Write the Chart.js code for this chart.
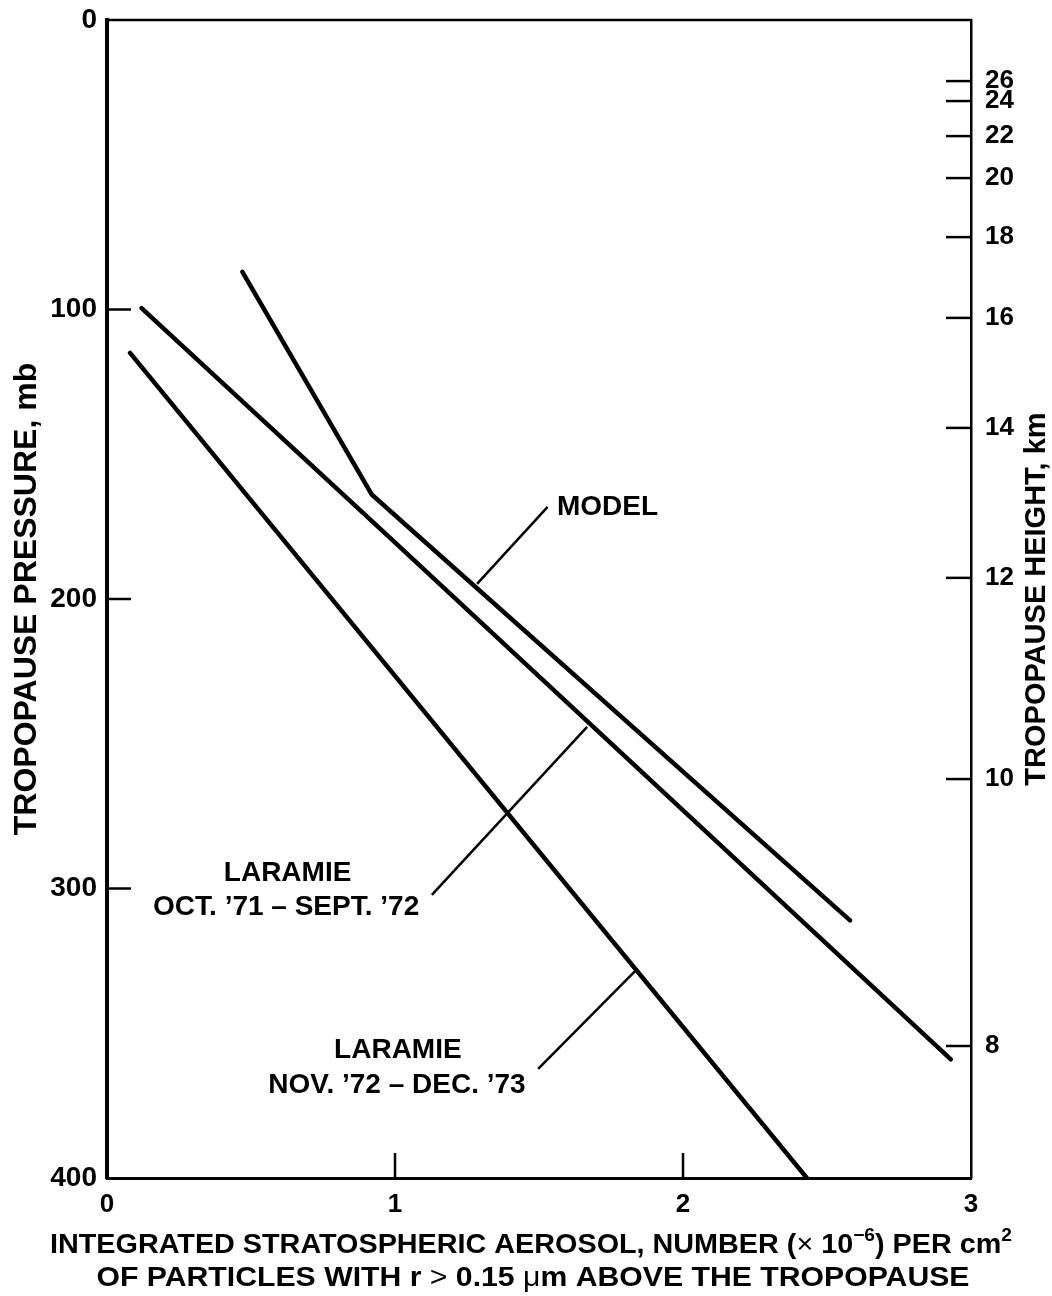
<!DOCTYPE html>
<html>
<head>
<meta charset="utf-8">
<script src="https://cdn.jsdelivr.net/npm/chart.js@4.4.0/dist/chart.umd.min.js"></script>
<style>
  html, body { margin: 0; padding: 0; background: #fff; }
  canvas { display: block; }
</style>
</head>
<body>
<canvas id="aerosolChart" width="1052" height="1296"></canvas>
<script>
const FONT = '"Liberation Sans", Arial, Helvetica, sans-serif';

// integrated aerosol (x 10^-6 per cm2) against tropopause pressure (mb)
const modelAerosol = [0.47, 0.92, 2.58];
const modelPressure = [87, 164, 311];
const oct71Aerosol = [0.12, 0.98, 2.93];
const oct71Pressure = [99.5, 178.6, 359];
const nov72Aerosol = [0.08, 2.43];
const nov72Pressure = [115, 400];

// leader lines running from each label to its curve
const modelLeaderX = [1.53, 1.285];
const modelLeaderP = [168.2, 194.8];
const oct71LeaderX = [1.128, 1.667];
const oct71LeaderP = [302.2, 244.2];
const nov72LeaderX = [1.497, 1.837];
const nov72LeaderP = [362.3, 328.2];

// axis ticks
const aerosolTicks = [0, 1, 2, 3];
const pressureTicks = [0, 100, 200, 300, 400];
const heightLabels = [26, 24, 22, 20, 18, 16, 14, 12, 10, 8];
const heightPressure = [21.1, 28.0, 40.1, 54.6, 75.0, 102.9, 140.9, 192.7, 262.2, 354.4];

// curve labels, anchored in data units
const curveLabels = [
  { text: 'MODEL', x: 1.5625, p: 168.2, align: 'left' },
  { text: 'LARAMIE', x: 0.627, p: 294.6, align: 'center' },
  { text: 'OCT. \u201971 \u2013 SEPT. \u201972', x: 0.622, p: 306.4, align: 'center' },
  { text: 'LARAMIE', x: 1.010, p: 355.8, align: 'center' },
  { text: 'NOV. \u201972 \u2013 DEC. \u201973', x: 1.007, p: 367.9, align: 'center' }
];

function toPoints(xs, ps) {
  return xs.map((x, i) => ({ x: x, y: ps[i] }));
}

function curve(xs, ps) {
  return {
    data: toPoints(xs, ps),
    borderColor: '#000',
    borderWidth: 4.5,
    borderCapStyle: 'round',
    borderJoinStyle: 'round',
    pointRadius: 0,
    tension: 0
  };
}

function leader(xs, ps) {
  return {
    data: toPoints(xs, ps),
    borderColor: '#000',
    borderWidth: 2.5,
    borderCapStyle: 'butt',
    pointRadius: 0,
    tension: 0
  };
}

function fixedTicks(values) {
  return scale => { scale.ticks = values.map(v => ({ value: v })); };
}

// pin an axis box to a fixed size and drop the label overflow padding
function fixedSize(prop, size) {
  return scale => {
    scale[prop] = size;
    scale.paddingTop = 0;
    scale.paddingBottom = 0;
    scale.paddingLeft = 0;
    scale.paddingRight = 0;
  };
}

// draws a line of text made of parts: [text, style] where style is
// 'b' bold, 'n' normal, 's' bold superscript
function drawParts(ctx, parts, cx, cy, size, targetWidth) {
  const fontFor = st => st === 's' ? `bold ${Math.round(size * 0.65)}px ${FONT}`
    : st === 'n' ? `${size}px ${FONT}` : `bold ${size}px ${FONT}`;
  let total = 0;
  const widths = parts.map(([t, st]) => {
    ctx.font = fontFor(st);
    const w = ctx.measureText(t).width;
    total += w;
    return w;
  });
  const sx = targetWidth ? targetWidth / total : 1;
  ctx.save();
  ctx.translate(cx, cy);
  ctx.scale(sx, 1);
  ctx.textAlign = 'left';
  ctx.textBaseline = 'alphabetic';
  let x = -total / 2;
  const base = size * 0.36;
  parts.forEach(([t, st], i) => {
    ctx.font = fontFor(st);
    ctx.fillText(t, x, st === 's' ? base - size * 0.42 : base);
    x += widths[i];
  });
  ctx.restore();
}

const annotate = {
  id: 'annotate',
  afterDraw(chart) {
    const { ctx, chartArea: a, scales: { x, y, y2 } } = chart;
    const seg = (x1, y1, x2, y2_) => {
      ctx.beginPath(); ctx.moveTo(x1, y1); ctx.lineTo(x2, y2_); ctx.stroke();
    };
    ctx.save();
    ctx.strokeStyle = '#000';
    ctx.fillStyle = '#000';

    // top edge of the frame
    ctx.lineWidth = 2.5;
    seg(a.left - 1, a.top, a.right + 1, a.top);

    // inward tick marks
    ctx.lineWidth = 2.5;
    pressureTicks.slice(1, -1).forEach(p => {
      const py = y.getPixelForValue(p);
      seg(a.left, py, a.left + 24, py);
    });
    aerosolTicks.slice(1, -1).forEach(v => {
      const px = x.getPixelForValue(v);
      seg(px, a.bottom, px, a.bottom - 25);
    });
    heightPressure.forEach(p => {
      const py = y2.getPixelForValue(p);
      seg(a.right, py, a.right - 25, py);
    });

    // curve labels
    ctx.font = `bold 28px ${FONT}`;
    ctx.textBaseline = 'middle';
    curveLabels.forEach(l => {
      ctx.textAlign = l.align;
      ctx.fillText(l.text, x.getPixelForValue(l.x), y.getPixelForValue(l.p));
    });

    // right axis title, reading upward
    ctx.save();
    ctx.translate(1037, (a.top + a.bottom) / 2);
    ctx.rotate(-Math.PI / 2);
    ctx.textAlign = 'center';
    ctx.font = `bold 29px ${FONT}`;
    ctx.fillText('TROPOPAUSE HEIGHT, km', 0, 0);
    ctx.restore();

    // x axis title, two lines
    drawParts(ctx, [
      ['INTEGRATED STRATOSPHERIC AEROSOL, NUMBER (', 'b'],
      ['\u00d7', 'n'],
      [' 10', 'b'],
      ['\u22126', 's'],
      [') PER cm', 'b'],
      ['2', 's']
    ], 531, 1243, 27, 962);
    drawParts(ctx, [
      ['OF PARTICLES WITH r ', 'b'],
      ['>', 'n'],
      [' 0.15 ', 'b'],
      ['\u03bc', 'n'],
      ['m ABOVE THE TROPOPAUSE', 'b']
    ], 533, 1276, 27, 873);

    ctx.restore();
  }
};

const tickFont = size => ({ family: FONT, size: size, weight: 'bold' });

new Chart(document.getElementById('aerosolChart'), {
  type: 'line',
  data: {
    datasets: [
      curve(modelAerosol, modelPressure),
      curve(oct71Aerosol, oct71Pressure),
      curve(nov72Aerosol, nov72Pressure),
      leader(modelLeaderX, modelLeaderP),
      leader(oct71LeaderX, oct71LeaderP),
      leader(nov72LeaderX, nov72LeaderP)
    ]
  },
  options: {
    responsive: false,
    animation: false,
    layout: { padding: { top: 20, left: 0, right: 0, bottom: 0 } },
    plugins: { legend: { display: false }, tooltip: { enabled: false } },
    scales: {
      x: {
        type: 'linear',
        position: 'bottom',
        min: 0,
        max: 3,
        afterBuildTicks: fixedTicks(aerosolTicks),
        afterFit: fixedSize('height', 118),
        grid: { display: false, drawTicks: false },
        border: { display: true, color: '#000', width: 3 },
        ticks: { color: '#000', font: tickFont(26), padding: 11, maxRotation: 0, autoSkip: false }
      },
      y: {
        type: 'linear',
        position: 'left',
        reverse: true,
        min: 0,
        max: 400,
        afterBuildTicks: fixedTicks(pressureTicks),
        afterFit: fixedSize('width', 107),
        grid: { display: false, drawTicks: false },
        border: { display: true, color: '#000', width: 4 },
        ticks: { color: '#000', font: tickFont(28), padding: 10, autoSkip: false },
        title: {
          display: true,
          text: 'TROPOPAUSE PRESSURE, mb',
          color: '#000',
          font: tickFont(32),
          padding: { top: 8, bottom: 0 }
        }
      },
      y2: {
        type: 'linear',
        position: 'right',
        reverse: true,
        min: 0,
        max: 400,
        afterBuildTicks: fixedTicks(heightPressure),
        afterFit: fixedSize('width', 81),
        grid: { display: false, drawTicks: false },
        border: { display: true, color: '#000', width: 2.5 },
        ticks: {
          color: '#000',
          font: tickFont(26),
          padding: 14,
          autoSkip: false,
          callback: (value, index) => heightLabels[index]
        }
      }
    }
  },
  plugins: [annotate]
});
</script>
</body>
</html>
